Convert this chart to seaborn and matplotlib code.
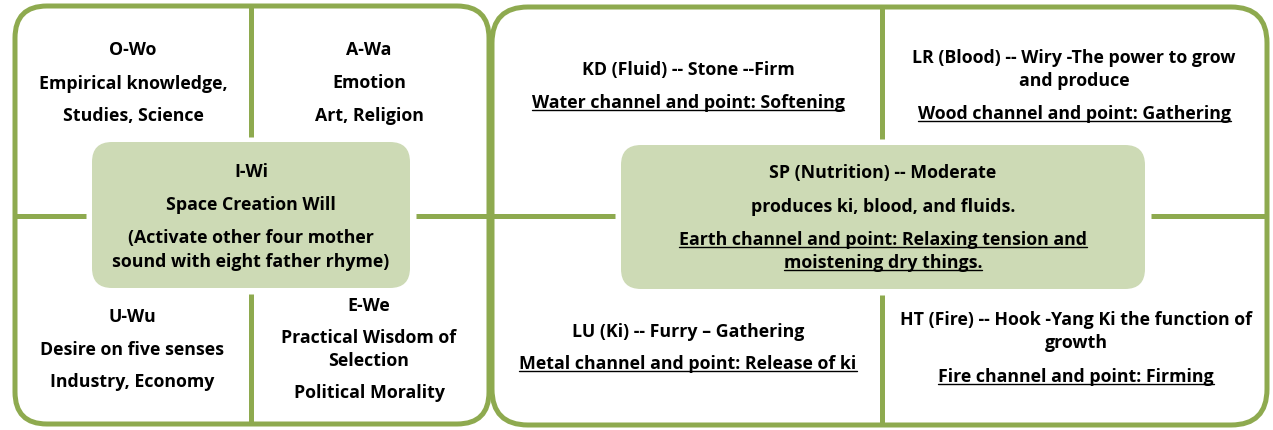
"""
Five-vowel / five-element diagram: two rounded panels with quadrant texts
and a light-green centre box in each.
"""
import matplotlib
matplotlib.use("Agg")
import matplotlib.pyplot as plt
from matplotlib.patches import FancyBboxPatch
import seaborn as sns

sns.set_theme(style="white")
plt.rcParams["font.family"] = ["Open Sans", "DejaVu Sans"]

W, H, DPI = 1273, 431, 100
LINE_COLOR = "#8EAA4F"
BOX_COLOR = "#CDDAB5"
FONT_SIZE = 12.8

# ---- texts ----
LEFT_TL = ["O-Wo", "Empirical knowledge,", "Studies, Science"]
LEFT_TR = ["A-Wa", "Emotion", "Art, Religion"]
LEFT_C = ["I-Wi", "Space Creation Will", "(Activate other four mother",
          "sound with eight father rhyme)"]
LEFT_BL = ["U-Wu", "Desire on five senses", "Industry, Economy"]
LEFT_BR = ["E-We", "Practical Wisdom of", "Selection", "Political Morality"]

RIGHT_TL = ["KD (Fluid) -- Stone --Firm", "Water channel and point: Softening"]
RIGHT_TR = ["LR (Blood) -- Wiry -The power to grow", "and produce",
            "Wood channel and point: Gathering"]
RIGHT_C = ["SP (Nutrition) -- Moderate", "produces ki, blood, and fluids.",
           "Earth channel and point: Relaxing tension and",
           "moistening dry things."]
RIGHT_BL = ["LU (Ki) -- Furry \u2013 Gathering", "Metal channel and point: Release of ki"]
RIGHT_BR = ["HT (Fire) -- Hook -Yang Ki the function of", "growth",
            "Fire channel and point: Firming"]

UNDERLINED = {
    "Water channel and point: Softening",
    "Wood channel and point: Gathering",
    "Earth channel and point: Relaxing tension and",
    "moistening dry things.",
    "Metal channel and point: Release of ki",
    "Fire channel and point: Firming",
}

# ---- layout (pixel space, y down) ----
CELLS = [
    (LEFT_TL, 133, [50, 84, 116]),
    (LEFT_TR, 369, [50, 83, 116]),
    (LEFT_C, 251, [172, 205, 238, 262]),
    (LEFT_BL, 132, [317, 350, 382]),
    (LEFT_BR, 369, [306, 338, 361, 393]),
    (RIGHT_TL, 688, [70, 103]),
    (RIGHT_TR, 1074, [58, 81, 114]),
    (RIGHT_C, 883, [173, 207, 240, 263]),
    (RIGHT_BL, 688, [332, 364]),
    (RIGHT_BR, 1076, [320, 343, 377]),
]


def rounded(ax, x0, y0, x1, y1, r, **kw):
    p = FancyBboxPatch((x0, y0), x1 - x0, y1 - y0,
                       boxstyle=f"round,pad=0,rounding_size={r}", **kw)
    ax.add_patch(p)


fig = plt.figure(figsize=(W / DPI, H / DPI), dpi=DPI)
ax = fig.add_axes([0, 0, 1, 1])
ax.set_xlim(0, W)
ax.set_ylim(H, 0)
ax.axis("off")

lw = 3.6
# outer panels
rounded(ax, 15, 7, 489, 425, 32, facecolor="white", edgecolor=LINE_COLOR, lw=lw, zorder=1)
rounded(ax, 492, 8, 1267, 426, 36, facecolor="white", edgecolor=LINE_COLOR, lw=lw, zorder=1)

# dividers
seg = dict(color=LINE_COLOR, lw=lw, solid_capstyle="butt", zorder=2)
ax.plot([251, 251], [7, 138], **seg)
ax.plot([251, 251], [295, 425], **seg)
ax.plot([15, 86], [217, 217], **seg)
ax.plot([416, 489], [217, 217], **seg)
ax.plot([882, 882], [8, 140], **seg)
ax.plot([882, 882], [296, 426], **seg)
ax.plot([492, 615], [217, 217], **seg)
ax.plot([1151, 1267], [217, 217], **seg)

# centre boxes
rounded(ax, 92, 143, 410, 289, 20, facecolor=BOX_COLOR, edgecolor="none", zorder=3)
rounded(ax, 621, 146, 1145, 290, 20, facecolor=BOX_COLOR, edgecolor="none", zorder=3)

texts = []
for lines, cx, ys in CELLS:
    for line, y in zip(lines, ys):
        t = ax.text(cx, y, line, ha="center", va="center", fontsize=FONT_SIZE,
                    fontweight="bold", color="black", zorder=4)
        texts.append(t)

# underline the channel/point lines
fig.canvas.draw()
renderer = fig.canvas.get_renderer()
inv = ax.transData.inverted()
for t in texts:
    if t.get_text() in UNDERLINED:
        bb = t.get_window_extent(renderer)
        (x0, y0), (x1, _) = inv.transform([(bb.x0, bb.y0), (bb.x1, bb.y1)])
        ax.plot([x0, x1], [y0 - 1, y0 - 1], color="black", lw=1.0, zorder=4)

fig.savefig("out.png", dpi=DPI)
